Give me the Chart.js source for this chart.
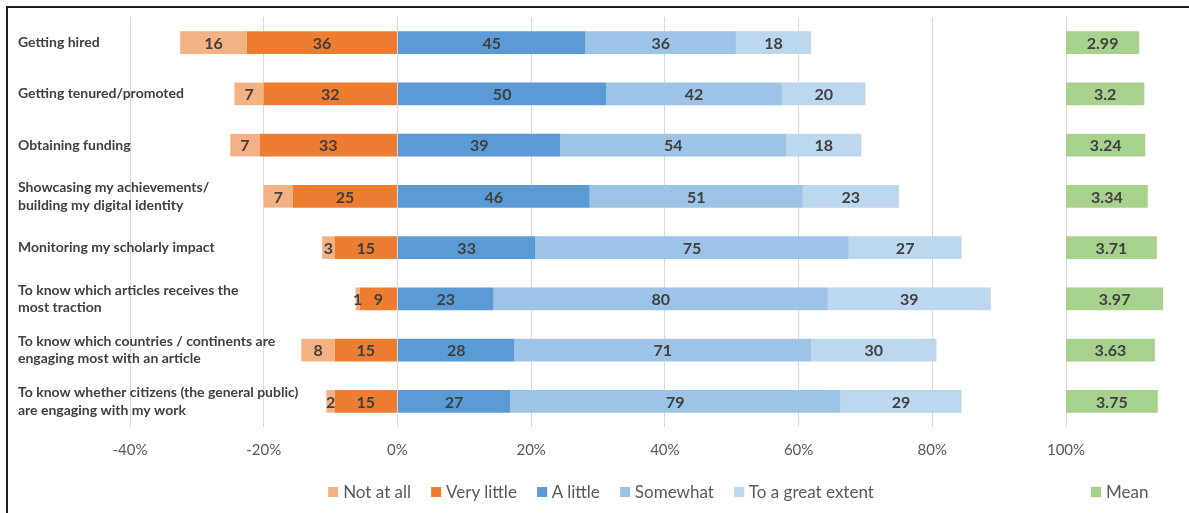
<!DOCTYPE html>
<html>
<head>
<meta charset="utf-8">
<title>Uses of altmetrics</title>
<script src="https://cdn.jsdelivr.net/npm/chart.js@4/dist/chart.umd.min.js"></script>
<style>
  html, body { margin: 0; padding: 0; background: #fff; }
  #wrap { position: relative; width: 1189px; height: 513px; overflow: hidden; font-family: Lato, "Open Sans", sans-serif; }
  #frame { position: absolute; left: 6px; top: 6px; right: -10px; bottom: -10px;
           border-left: 2px solid #1e1e1e; border-top: 2px solid #1e1e1e; pointer-events: none; }
  .legend { position: absolute; top: 481px; display: flex; gap: 20px; font-size: 17px; color: #595959; white-space: nowrap; }
  .legend .item { display: flex; align-items: center; }
  .legend i { width: 10px; height: 10px; margin-right: 5px; display: inline-block; }
  #legendMain { left: 601px; transform: translateX(-50%); }
  #legendMean { left: 1091px; }
</style>
</head>
<body>
<div id="wrap">
  <canvas id="chart" width="1189" height="513"></canvas>
  <div id="frame"></div>
  <div class="legend" id="legendMain"></div>
  <div class="legend" id="legendMean"></div>
</div>
<script>
const categories = [
  'Getting hired',
  'Getting tenured/promoted',
  'Obtaining funding',
  ['Showcasing my achievements/', 'building my digital identity'],
  'Monitoring my scholarly impact',
  ['To know which articles receives the', 'most traction'],
  ['To know which countries / continents are', 'engaging most with an article'],
  ['To know whether citizens (the general public)', 'are engaging with my work']
];

// answer counts per purpose
const notAtAll    = [16, 7, 7, 7, 3, 1, 8, 2];
const veryLittle  = [36, 32, 33, 25, 15, 9, 15, 15];
const aLittle     = [45, 50, 39, 46, 33, 23, 28, 27];
const somewhat    = [36, 42, 54, 51, 75, 80, 71, 79];
const greatExtent = [18, 20, 18, 23, 27, 39, 30, 29];
const means       = [2.99, 3.2, 3.24, 3.34, 3.71, 3.97, 3.63, 3.75];

const respondents = 160;
const xTicks = [-40, -20, 0, 20, 40, 60, 80, 100];

const MEAN_START = 100;   // mean bars sit to the right of the 100% line
const MEAN_SCALE = 3.66;  // % of axis per mean point
const LABEL_COL = 112;    // room for the purpose names left of -40%

const pct = n => n / respondents * 100;

function answerSet(label, counts, color, negative) {
  return {
    label: label,
    data: counts.map(n => negative ? -pct(n) : pct(n)),
    valueLabels: counts.map(String),
    backgroundColor: color,
    stack: 'answers'
  };
}

// negative side: inner segment first so it hugs the 0% line
const datasets = [
  answerSet('Very little', veryLittle, '#ED7D31', true),
  answerSet('Not at all', notAtAll, '#F4B183', true),
  answerSet('A little', aLittle, '#5B9BD5', false),
  answerSet('Somewhat', somewhat, '#9DC3E6', false),
  answerSet('To a great extent', greatExtent, '#BDD7EE', false),
  {
    label: 'Mean',
    data: means.map(m => [MEAN_START, MEAN_START + m * MEAN_SCALE]),
    valueLabels: means.map(String),
    backgroundColor: '#A9D18E',
    stack: 'mean',
    grouped: false
  }
];

const legendOrder = ['Not at all', 'Very little', 'A little', 'Somewhat', 'To a great extent'];

function legendItem(ds) {
  return '<span class="item"><i style="background:' + ds.backgroundColor + '"></i>' + ds.label + '</span>';
}
document.getElementById('legendMain').innerHTML =
  legendOrder.map(name => legendItem(datasets.find(d => d.label === name))).join('');
document.getElementById('legendMean').innerHTML = legendItem(datasets[5]);

// counts / means written in the middle of each segment
const segmentLabels = {
  id: 'segmentLabels',
  afterDatasetsDraw(chart) {
    const ctx = chart.ctx;
    ctx.save();
    ctx.font = 'bold 16px Lato';
    ctx.fillStyle = '#404040';
    ctx.textAlign = 'center';
    ctx.textBaseline = 'middle';
    chart.data.datasets.forEach((ds, di) => {
      chart.getDatasetMeta(di).data.forEach((bar, i) => {
        const p = bar.getProps(['x', 'y', 'base'], true);
        ctx.fillText(ds.valueLabels[i], (p.x + p.base) / 2, p.y + 1);
      });
    });
    ctx.restore();
  }
};

function drawChart() {
  const ctx = document.getElementById('chart').getContext('2d');
  new Chart(ctx, {
    type: 'bar',
    data: { labels: categories, datasets: datasets },
    options: {
      indexAxis: 'y',
      responsive: false,
      animation: false,
      datasets: {
        bar: { barPercentage: 0.44, categoryPercentage: 1, borderWidth: 0 }
      },
      layout: { padding: { left: 18, top: 17, right: 16, bottom: 40 } },
      scales: {
        x: {
          stacked: true,
          min: -40,
          max: 116,
          afterBuildTicks: scale => { scale.ticks = xTicks.map(v => ({ value: v })); },
          grid: { color: '#D9D9D9', drawTicks: false },
          border: { display: false },
          ticks: {
            padding: 14,
            color: '#595959',
            font: { family: 'Lato', size: 15 },
            callback: v => v + '%'
          }
        },
        y: {
          stacked: true,
          afterFit: scale => { scale.width = LABEL_COL; },
          grid: { display: false },
          border: { display: false },
          ticks: {
            // mirrored labels are not clipped to the axis box, so they can run over the plot
            mirror: true,
            crossAlign: 'near',
            padding: -LABEL_COL,
            color: '#404040',
            font: { family: 'Lato', size: 14, weight: 'bold', lineHeight: 1.25 }
          }
        }
      },
      plugins: {
        legend: { display: false },
        tooltip: { enabled: false }
      }
    },
    plugins: [segmentLabels]
  });
}

Promise.all([
  document.fonts.load('bold 14px Lato'),
  document.fonts.load('14px Lato')
]).then(drawChart, drawChart);
</script>
</body>
</html>
